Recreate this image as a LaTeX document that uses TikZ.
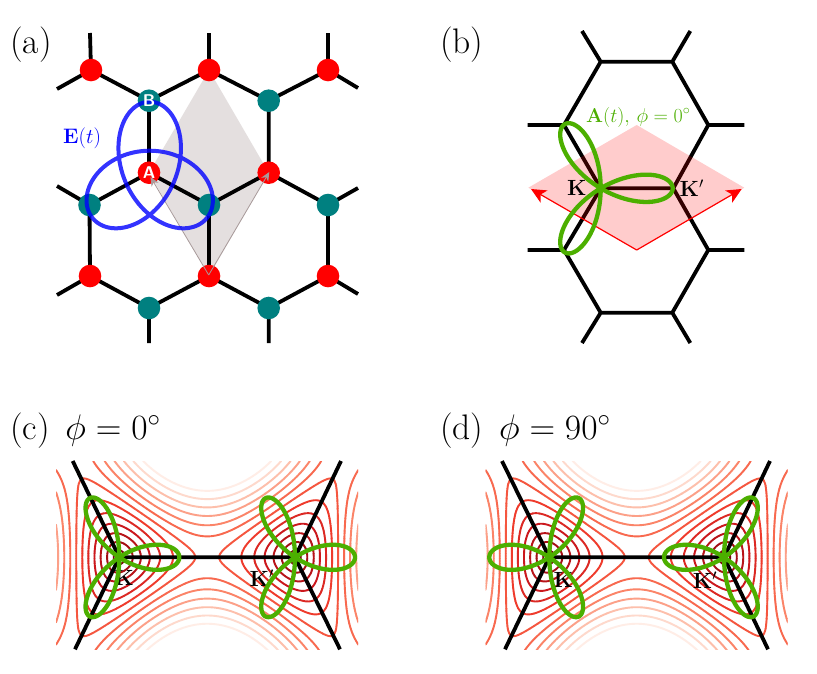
\RequirePackage{fix-cm}
\documentclass[tikz,border=0pt]{standalone}
\usetikzlibrary{arrows.meta}
\definecolor{gl}{HTML}{4CAF00}
\definecolor{tealn}{HTML}{008080}
\definecolor{gr}{HTML}{A89A9A}
\definecolor{c1}{HTML}{7A0510}
\definecolor{c2}{HTML}{A50F15}
\definecolor{c3}{HTML}{B81419}
\definecolor{c4}{HTML}{CB181D}
\definecolor{c5}{HTML}{DC2924}
\definecolor{c6}{HTML}{EF3B2C}
\definecolor{c7}{HTML}{F5563F}
\definecolor{c8}{HTML}{F8694F}
\definecolor{c9}{HTML}{FB8468}
\definecolor{c10}{HTML}{FCA088}
\definecolor{c11}{HTML}{FDBFAB}
\definecolor{c12}{HTML}{FED9CC}
\definecolor{c13}{HTML}{FFEDE6}
\tikzset{
  bond/.style={line width=3.8pt,black},
  rednode/.style={circle,fill=red,minimum size=22.6pt,inner sep=0pt},
  tealnode/.style={circle,fill=tealn,minimum size=22.6pt,inner sep=0pt},
  sublat/.style={text=white,font=\fontsize{17}{20}\selectfont\sffamily\bfseries,inner sep=0pt},
  panel/.style={anchor=base west,inner sep=0pt,font=\fontsize{35.5}{40}\selectfont},
  kl/.style={inner sep=0pt,font=\fontsize{22}{26}\selectfont},
  grarrow/.style={draw=gr,line width=.8pt,-{Stealth[length=9pt,width=8pt,fill=gr]}},
  redarrow/.style={draw=red,line width=1.2pt,-{Stealth[length=15pt,width=14pt,inset=4pt]}},
  petal/.style={draw=gl,line width=4.3pt,line join=round},
  fieldloop/.style={draw=blue,opacity=.8,line width=4pt,line join=round},
}
% --- marching squares for the contours of |f(k)| ---
\newcount\ci \newcount\cj \newcount\cip \newcount\cjp \newcount\na
\newcount\xs \newcount\ys \newcount\Va \newcount\Vb \newcount\Vc \newcount\Vd \newcount\Lv
\newdimen\dtmp
\def\hh{163840}
\def\NX{121}
\def\NY{76}
\def\buildcols{\ifnum\ci>\NX\else
  \pgfmathsetmacro\tu{(56+2.5*\the\ci-207.2)/175.7}%
  \pgfmathsetmacro\ta{3+2*cos(240*\tu)}%
  \pgfmathsetmacro\tb{4*cos(120*\tu)}%
  \expandafter\xdef\csname CA\the\ci\endcsname{\ta}%
  \expandafter\xdef\csname CB\the\ci\endcsname{\tb}%
  \advance\ci 1 \expandafter\buildcols\fi}
\def\buildrows{\ifnum\cj>\NY\else
  \pgfmathsetmacro\tv{(461+2.5*\the\cj-557.3)/209}%
  \pgfmathsetmacro\tc{-cos(207.846*\tv)}%
  \expandafter\xdef\csname CC\the\cj\endcsname{\tc}%
  \advance\cj 1 \expandafter\buildrows\fi}
\def\fillcol{\ifnum\ci>\NX\else
  \dtmp=\csname CC\the\cj\endcsname pt\relax
  \dtmp=\csname CB\the\ci\endcsname\dtmp
  \advance\dtmp \csname CA\the\ci\endcsname pt\relax
  \expandafter\xdef\csname V\the\ci.\the\cj\endcsname{\number\dtmp}%
  \advance\ci 1 \expandafter\fillcol\fi}
\def\fillrows{\ifnum\cj>\NY\else
  \ci=0 \fillcol
  \advance\cj 1 \expandafter\fillrows\fi}
\def\pT{\pgfqpoint{\dimexpr\numexpr\xs+(\Lv-\Va)*\hh/(\Vb-\Va)\relax sp\relax}{-\dimexpr\the\ys sp\relax}}
\def\pB{\pgfqpoint{\dimexpr\numexpr\xs+(\Lv-\Vd)*\hh/(\Vc-\Vd)\relax sp\relax}{-\dimexpr\numexpr\ys+\hh\relax sp\relax}}
\def\pL{\pgfqpoint{\dimexpr\the\xs sp\relax}{-\dimexpr\numexpr\ys+(\Lv-\Va)*\hh/(\Vd-\Va)\relax sp\relax}}
\def\pR{\pgfqpoint{\dimexpr\numexpr\xs+\hh\relax sp\relax}{-\dimexpr\numexpr\ys+(\Lv-\Vb)*\hh/(\Vc-\Vb)\relax sp\relax}}
\def\seg#1#2{\pgfpathmoveto{#1}\pgfpathlineto{#2}}
\def\cellloop{\ifnum\ci<\NX
  \cip=\ci \advance\cip 1
  \Va=\csname V\the\ci.\the\cj\endcsname\relax
  \Vb=\csname V\the\cip.\the\cj\endcsname\relax
  \Vc=\csname V\the\cip.\the\cjp\endcsname\relax
  \Vd=\csname V\the\ci.\the\cjp\endcsname\relax
  \na=0
  \ifnum\Va>\Lv \advance\na 1 \fi
  \ifnum\Vb>\Lv \advance\na 2 \fi
  \ifnum\Vc>\Lv \advance\na 4 \fi
  \ifnum\Vd>\Lv \advance\na 8 \fi
  \ifcase\na
  \or\seg\pL\pT\or\seg\pT\pR\or\seg\pL\pR\or\seg\pR\pB
  \or\seg\pL\pT\seg\pR\pB\or\seg\pT\pB\or\seg\pL\pB
  \or\seg\pL\pB\or\seg\pT\pB\or\seg\pT\pR\seg\pL\pB
  \or\seg\pR\pB\or\seg\pL\pR\or\seg\pT\pR\or\seg\pL\pT
  \else\fi
  \advance\ci 1 \advance\xs \hh\relax
  \expandafter\cellloop\fi}
\def\rowloop{\ifnum\cj<\NY
  \cjp=\cj \advance\cjp 1
  \ci=0 \xs=3670016 \cellloop
  \pgfusepath{stroke}%
  \advance\cj 1 \advance\ys \hh\relax
  \expandafter\rowloop\fi}
\def\level#1#2{\dtmp=#1pt\relax \dtmp=#1\dtmp \Lv=\dtmp
  \pgfsetstrokecolor{#2}\cj=0 \ys=30212096 \rowloop}
\def\contours{\pgfsetlinewidth{1.9pt}\pgfsetroundcap
  \level{1.838}{c13}\level{1.695}{c12}\level{1.552}{c11}\level{1.409}{c10}
  \level{1.266}{c9}\level{1.123}{c8}\level{0.98}{c7}\level{0.837}{c6}
  \level{0.694}{c5}\level{0.551}{c4}\level{0.408}{c3}\level{0.265}{c2}
  \level{0.122}{c1}}
\ci=0 \buildcols
\cj=0 \buildrows
\cj=0 \fillrows
\newcommand{\rosecurve}[3]{%
  \draw[petal,shift={(#1)}] plot[domain=0:180,samples=181,variable=\th]
    ({#2*cos(3*\th)*cos(\th)},{#3*cos(3*\th)*sin(\th)}) -- cycle;}
\begin{document}
\begin{tikzpicture}[x=1pt,y=-1pt]
\useasboundingbox (0,0) rectangle (817,673);
\fill[white] (0,0) rectangle (817,673);

%%%%%%%%%% panel (a)
\node[panel] (la) at (10,53) {(a)};
\coordinate (r1) at (91,70);
\coordinate (r2) at (209,70);
\coordinate (r3) at (328,70);
\coordinate (t1) at (149,100.7);
\coordinate (t2) at (268.7,100.7);
\coordinate (r4) at (149,172.7);
\coordinate (r5) at (268.7,172.7);
\coordinate (t3) at (89.5,205);
\coordinate (t4) at (209,205);
\coordinate (t5) at (328,205);
\coordinate (r6) at (90,276);
\coordinate (r7) at (209,276);
\coordinate (r8) at (328,276);
\coordinate (t6) at (149,308);
\coordinate (t7) at (268.7,308);
\coordinate (s1) at (90,33);
\coordinate (s2) at (209,33);
\coordinate (s3) at (328,33);
\coordinate (s4) at (57,89);
\coordinate (s5) at (358,88);
\coordinate (s6) at (57,186);
\coordinate (s7) at (358,188);
\coordinate (s8) at (57,295);
\coordinate (s9) at (358,294);
\coordinate (s10) at (149,343);
\coordinate (s11) at (268.7,343);
\fill[color={rgb,255:red,228;green,223;blue,223}] (r2) -- (r5) -- (r7) -- (r4) -- cycle;
\draw[bond] (s1)--(r1) (s2)--(r2) (s3)--(r3) (s4)--(r1) (s5)--(r3)
  (r1)--(t1)--(r2)--(t2)--(r3) (t1)--(r4) (t2)--(r5)
  (s6)--(t3)--(r4)--(t4)--(r5)--(t5)--(s7)
  (t3)--(r6) (t4)--(r7) (t5)--(r8)
  (s8)--(r6)--(t6)--(r7)--(t7)--(r8)--(s9) (t6)--(s10) (t7)--(s11);
\foreach \n in {r1,r2,r3,r4,r5,r6,r7,r8} \node[rednode] (n\n) at (\n) {};
\foreach \n in {t1,t2,t3,t4,t5,t6,t7} \node[tealnode] (n\n) at (\n) {};
\coordinate (ga) at (150.5,177);
\coordinate (gb) at (269.3,172);
\draw[grarrow] (208.7,275) -- (ga);
\draw[grarrow] (208.7,275) -- (gb);
\draw[fieldloop,shift={(149.7,176.5)}] plot[domain=0:360,samples=181,variable=\t]
  ({-.925*(24.5*sin(\t)-50.3*sin(2*\t))},{-(24.5*cos(\t)+50.3*cos(2*\t))}) -- cycle;
\node[sublat] (lB) at (t1) {B};
\node[sublat] (lA) at (r4) {A};
\node[anchor=base west,inner sep=0pt,text=blue,font=\fontsize{21}{24}\selectfont] (lE) at (63,143) {$\mathbf{E}(t)$};

%%%%%%%%%% panel (b)
\node[panel] (lb) at (440,53) {(b)};
\coordinate (h1) at (600.7,61.7);
\coordinate (h2) at (672.3,61.7);
\coordinate (h3) at (708.3,125);
\coordinate (kp) at (673.3,188.3);
\coordinate (h4) at (708.3,250);
\coordinate (h5) at (672.3,312.7);
\coordinate (h6) at (600.7,312.7);
\coordinate (h7) at (564,250);
\coordinate (k) at (600.7,188.3);
\coordinate (h8) at (564,125);
\coordinate (u1) at (582,31);
\coordinate (u2) at (690.3,31);
\coordinate (u3) at (582,343);
\coordinate (u4) at (690.3,343);
\coordinate (u5) at (527.7,125);
\coordinate (u6) at (744.3,125);
\coordinate (u7) at (527.7,250);
\coordinate (u8) at (744.3,250);
\draw[bond,line join=round] (h1)--(h2)--(h3)--(kp)--(h4)--(h5)--(h6)--(h7)--(k)--(h8)--cycle
  (k)--(kp) (h1)--(u1) (h2)--(u2) (h6)--(u3) (h5)--(u4) (h8)--(u5) (h3)--(u6) (h7)--(u7) (h4)--(u8);
\coordinate (p1) at (636.7,125);
\coordinate (p2) at (744.3,187.7);
\coordinate (p3) at (636.7,250);
\coordinate (p4) at (528.3,187.7);
\fill[red,opacity=.2] (p1)--(p2)--(p3)--(p4)--cycle;
\coordinate (a1) at (531,189);
\coordinate (a2) at (741.7,189);
\draw[redarrow] (p3)--(a1);
\draw[redarrow] (p3)--(a2);
\rosecurve{k}{72}{74}
\node[kl] (lK) at (576.7,188) {$\mathbf{K}$};
\node[kl] (lKp) at (691.7,188) {$\mathbf{K}'$};
\node[anchor=base west,inner sep=0pt,text=gl,font=\fontsize{20}{24}\selectfont] (lA2) at (586,122) {$\mathbf{A}(t),\,\phi=0^\circ$};

%%%%%%%%%% panel (c)
\node[panel] (lc) at (10,439) {(c)\hspace{5pt} $\phi=0^\circ$};
\begin{scope}
  \clip (56,461) rectangle (358,649);
  \contours
\end{scope}
\coordinate (ck) at (119.3,557.3);
\coordinate (ckp) at (295,557.3);
\coordinate (c1e) at (72.7,461);
\coordinate (c2e) at (75,649.3);
\coordinate (c3e) at (341,461);
\coordinate (c4e) at (340,649.3);
\draw[bond] (c1e)--(ck)--(c2e) (c3e)--(ckp)--(c4e) (ck)--(ckp);
\node[kl] (lcK) at (124,578.3) {$\mathbf{K}$};
\node[kl] (lcKp) at (261.7,578.3) {$\mathbf{K}'$};
\rosecurve{ck}{60}{68}
\rosecurve{ckp}{60}{68}

%%%%%%%%%% panel (d)
\node[panel] (ld) at (440,439) {(d)\hspace{5pt} $\phi=90^\circ$};
\begin{scope}[xshift=429.5pt]
  \clip (56,461) rectangle (358,649);
  \contours
\end{scope}
\coordinate (dk) at (549.3,557.3);
\coordinate (dkp) at (724,557.3);
\coordinate (d1e) at (502,461);
\coordinate (d2e) at (505,649.3);
\coordinate (d3e) at (770,461);
\coordinate (d4e) at (768,649.3);
\draw[bond] (d1e)--(dk)--(d2e) (d3e)--(dkp)--(d4e) (dk)--(dkp);
\node[kl] (ldK) at (563.3,580) {$\mathbf{K}$};
\node[kl] (ldKp) at (705,580) {$\mathbf{K}'$};
\rosecurve{dk}{-60}{-68}
\rosecurve{dkp}{-60}{-68}
\end{tikzpicture}
\end{document}
